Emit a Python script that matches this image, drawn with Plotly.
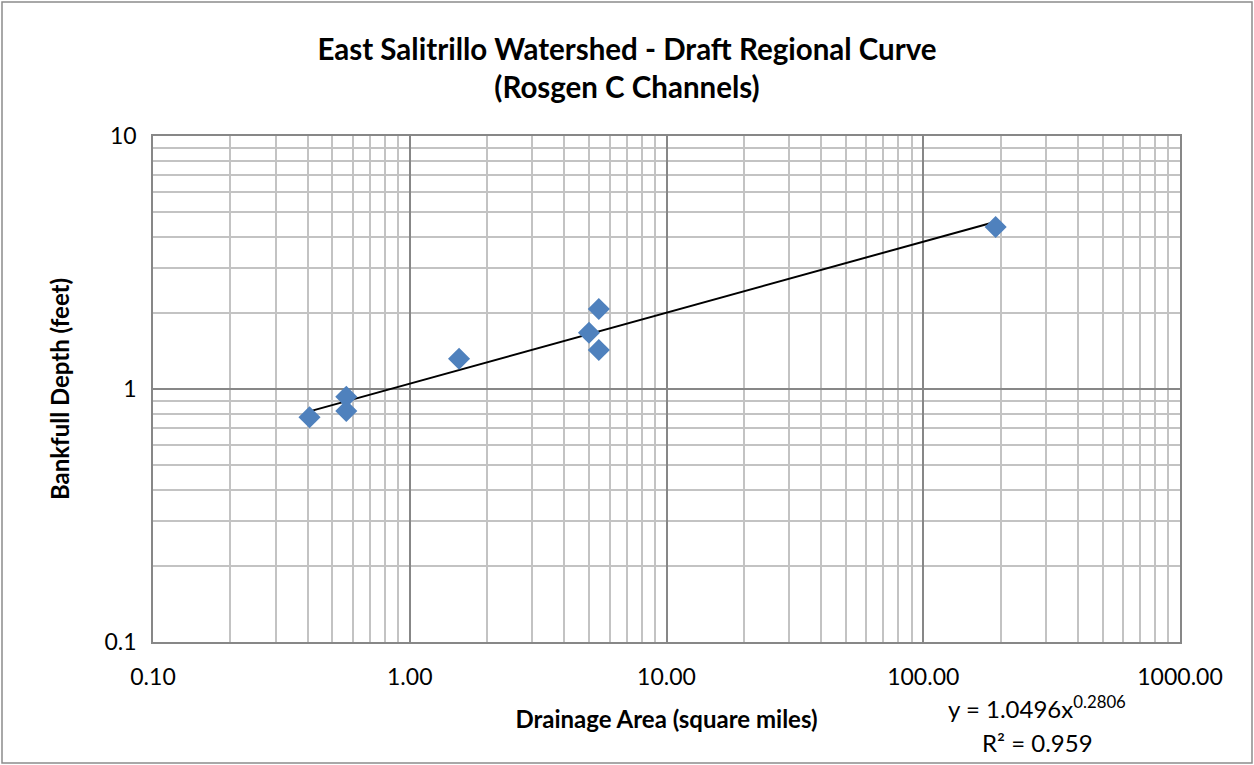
import plotly.graph_objects as go
import numpy as np

# Observed bankfull depth vs drainage area (Rosgen C channels)
drainage_area = [0.407, 0.566, 0.566, 1.556, 4.99, 5.45, 5.45, 191.4]
bankfull_depth = [0.773, 0.932, 0.819, 1.317, 1.668, 2.07, 1.426, 4.37]

# Power-law fit y = a * x^b
fit_a = 1.0496
fit_b = 0.2806
fit_r2 = 0.959

x_tick_vals = [0.1, 1, 10, 100, 1000]
x_tick_text = ["0.10", "1.00", "10.00", "100.00", "1000.00"]
y_tick_vals = [0.1, 1, 10]
y_tick_text = ["0.1", "1", "10"]

FONT = "Lato, 'Open Sans', sans-serif"
W, H = 1254, 765
ML, MR, MT, MB = 153, 74, 136, 123

fit_x = np.array([min(drainage_area), max(drainage_area)])
fit_y = fit_a * fit_x ** fit_b

fig = go.Figure()
fig.add_trace(go.Scatter(
    x=fit_x, y=fit_y, mode="lines",
    line=dict(color="black", width=2), hoverinfo="skip", showlegend=False,
))
fig.add_trace(go.Scatter(
    x=drainage_area, y=bankfull_depth, mode="markers",
    marker=dict(symbol="diamond", size=17, color="#4F81BD", line=dict(width=0)),
    showlegend=False,
))

axis_common = dict(
    type="log", showgrid=True, gridcolor="#878787", gridwidth=1.5,
    showline=True, linecolor="#878787", linewidth=1.5, mirror=True,
    ticks="", zeroline=False,
    tickfont=dict(family=FONT, size=23, color="black"),
    minor=dict(dtick="D1", showgrid=True, gridcolor="#c3c3c3", gridwidth=1.5, ticks=""),
)

fig.update_xaxes(
    **axis_common, range=[-1, 3], tickmode="array",
    tickvals=x_tick_vals, ticktext=x_tick_text, ticklabelstandoff=14,
    title=dict(text="<b>Drainage Area (square miles)</b>",
               font=dict(family=FONT, size=24, color="black"), standoff=22),
)
fig.update_yaxes(
    **axis_common, range=[-1, 1], tickmode="array",
    tickvals=y_tick_vals, ticktext=y_tick_text, ticklabelstandoff=10,
    title=dict(text="<b>Bankfull Depth (feet)</b>",
               font=dict(family=FONT, size=24, color="black"), standoff=28),
)

pw = W - ML - MR
ph = H - MT - MB

fig.update_layout(
    width=W, height=H,
    margin=dict(l=ML, r=MR, t=MT, b=MB),
    paper_bgcolor="white", plot_bgcolor="white",
    title=dict(
        text="<b>East Salitrillo Watershed - Draft Regional Curve<br>(Rosgen C Channels)</b>",
        x=0.5, xanchor="center", y=1 - 60 / H, yanchor="top",
        font=dict(family=FONT, size=29.5, color="black"),
    ),
    annotations=[
        dict(text=f"y = {fit_a}x<sup>{fit_b}</sup>", xref="paper", yref="paper",
             x=(1037 - ML) / pw, y=(H - MB - 707) / ph, xanchor="center", yanchor="middle",
             showarrow=False, font=dict(family=FONT, size=24, color="black")),
        dict(text=f"R² = {fit_r2}", xref="paper", yref="paper",
             x=(1037 - ML) / pw, y=(H - MB - 742) / ph, xanchor="center", yanchor="middle",
             showarrow=False, font=dict(family=FONT, size=24, color="black")),
    ],
    shapes=[
        dict(type="rect", xref="paper", yref="paper",
             x0=(2 - ML) / pw, x1=(W - 2 - ML) / pw,
             y0=-(MB - 2) / ph, y1=1 + (MT - 2) / ph,
             line=dict(color="#8c8c8c", width=1.5), fillcolor="rgba(0,0,0,0)", layer="below"),
    ],
)

fig.write_html("out.html")
